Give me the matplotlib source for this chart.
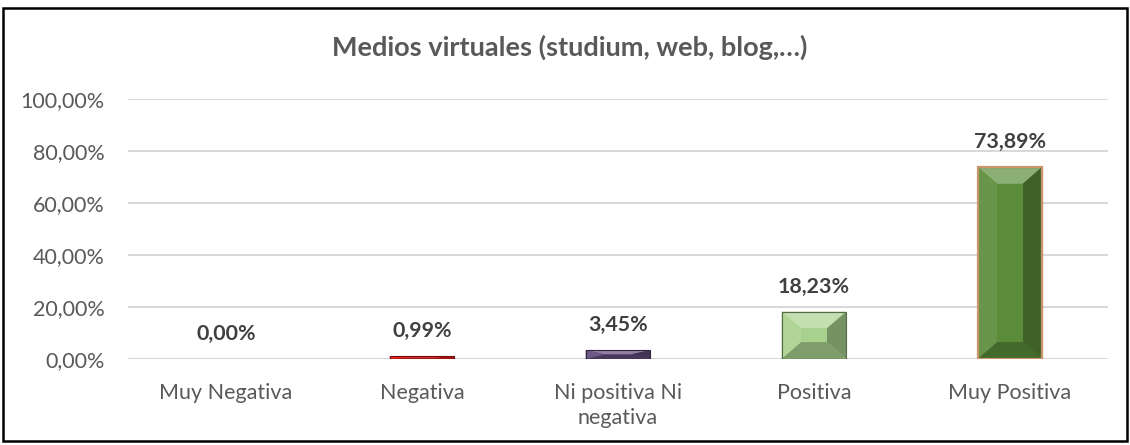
import numpy as np
import matplotlib
matplotlib.use("Agg")
import matplotlib.pyplot as plt
import matplotlib.colors as mcolors
from matplotlib.patches import Polygon, Rectangle

# ==========================================================
# Data
# ==========================================================
categories = ["Muy Negativa", "Negativa", "Ni positiva Ni\nnegativa", "Positiva", "Muy Positiva"]
values = [0.00, 0.99, 3.45, 18.23, 73.89]
bar_colors = ["#4472C4", "#E81515", "#604A7B", "#A9D18E", "#5B8C3A"]
y_ticks = [0, 20, 40, 60, 80, 100]
title = "Medios virtuales (studium, web, blog,…)"

plt.rcParams['font.family'] = ['Lato', 'DejaVu Sans']


def fmt_pct(v):
    return f"{v:.2f}".replace(".", ",") + "%"


def shade(color, amount):
    """amount > 0 -> towards white, amount < 0 -> towards black."""
    rgb = np.array(mcolors.to_rgb(color))
    if amount >= 0:
        return tuple(rgb + (1 - rgb) * amount)
    return tuple(rgb * (1 + amount))


def bevel_bar(ax, x, h, width, color, bx=0.1, by=6.5):
    """Bar with a simple bevel look (four shaded faces around a flat centre)."""
    if h <= 0:
        return
    x0, x1 = x - width / 2, x + width / 2
    by = min(by, h / 2)
    bx = min(bx, width / 2)
    ix0, ix1 = x0 + bx, x1 - bx
    iy0, iy1 = by, h - by

    ax.add_patch(Rectangle((x0, 0), width, h, facecolor=color, edgecolor="none", zorder=3))
    faces = [
        ([(x0, h), (x1, h), (ix1, iy1), (ix0, iy1)], 0.30),      # top
        ([(x0, 0), (x0, h), (ix0, iy1), (ix0, iy0)], 0.08),      # left
        ([(x1, 0), (x1, h), (ix1, iy1), (ix1, iy0)], -0.30),     # right
        ([(x0, 0), (x1, 0), (ix1, iy0), (ix0, iy0)], -0.25),     # bottom
    ]
    for pts, amt in faces:
        ax.add_patch(Polygon(pts, closed=True, facecolor=shade(color, amt),
                             edgecolor="none", zorder=3))
    ax.add_patch(Rectangle((ix0, iy0), ix1 - ix0, max(iy1 - iy0, 0),
                           facecolor=color, edgecolor="none", zorder=3))
    ax.add_patch(Rectangle((x0, 0), width, h, facecolor="none",
                           edgecolor=shade(color, -0.5), linewidth=0.8, zorder=4))


# ==========================================================
# Figure
# ==========================================================
fig = plt.figure(figsize=(11.30, 4.45), dpi=100)
ax = fig.add_axes([0.1133, 0.1933, 0.8672, 0.5842])

x = np.arange(len(categories))
bar_w = 0.33

for xi, v, c in zip(x, values, bar_colors):
    bevel_bar(ax, xi, v, bar_w, c)

# tan outline on the tallest bar
ax.add_patch(Rectangle((x[-1] - bar_w / 2, 0), bar_w, values[-1], facecolor="none",
                       edgecolor="#C9956B", linewidth=1.6, zorder=5))

for xi, v in zip(x, values):
    ax.annotate(fmt_pct(v), (xi, v), xytext=(0, 18), textcoords="offset points",
                ha="center", va="center", fontsize=15.4, fontweight="bold", color="#404040")

# ---- axes styling ------------------------------------------------
ax.set_xlim(-0.5, len(categories) - 0.5)
ax.set_ylim(0, 100)
ax.set_yticks(y_ticks)
ax.set_yticklabels([fmt_pct(t) for t in y_ticks], fontsize=15.5, color="#595959")
ax.set_xticks(x)
ax.set_xticklabels(categories, fontsize=15.5, color="#595959", linespacing=1.35)
ax.tick_params(axis="both", length=0)
ax.tick_params(axis="y", pad=17)
ax.tick_params(axis="x", pad=17)
ax.grid(axis="y", color="#D9D9D9", linewidth=1.5, zorder=0)
ax.set_axisbelow(True)
for s in ax.spines.values():
    s.set_visible(False)

fig.text(0.504, 0.894, title, ha="center", va="center", fontsize=19.5,
         fontweight="bold", color="#595959")

# outer chart border
fig.add_artist(Rectangle((0.003, 0.008), 0.994, 0.974, transform=fig.transFigure,
                         facecolor="none", edgecolor="black", linewidth=1.8))

fig.savefig("out.png", dpi=100)
